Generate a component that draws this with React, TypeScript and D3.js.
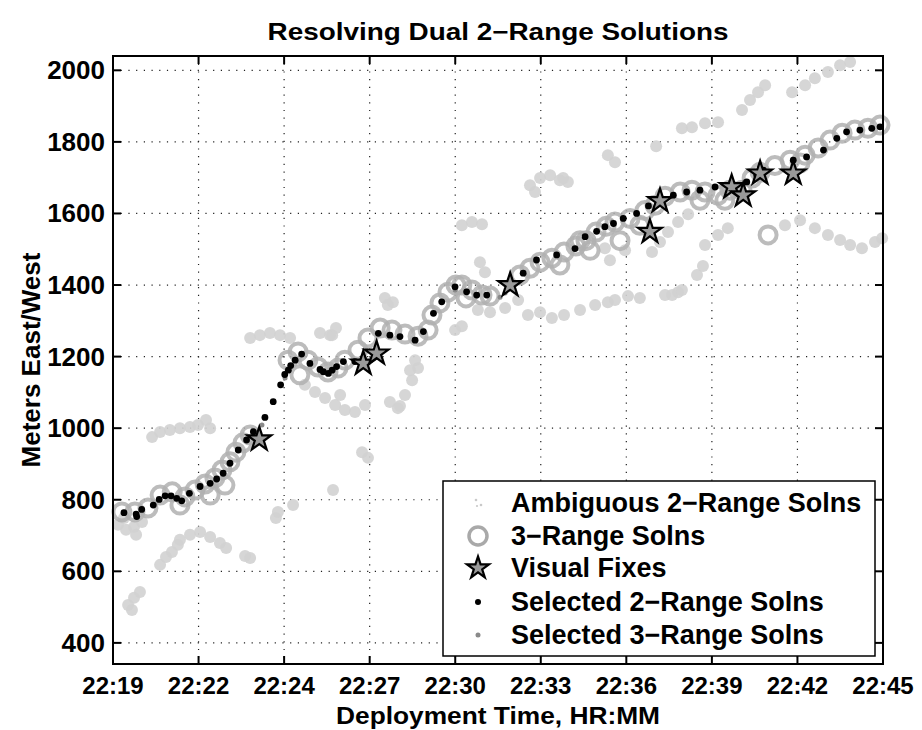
import React from "react";
import * as d3 from "d3";

// ---- Data (time in minutes after 22:00, value in meters East/West) ----
const xTickValues = [19, 21.889, 24.778, 27.667, 30.556, 33.444, 36.333, 39.222, 42.111, 45];
const xTickLabels = ["22:19", "22:22", "22:24", "22:27", "22:30", "22:33", "22:36", "22:39", "22:42", "22:45"];
const yTickValues = [400, 600, 800, 1000, 1200, 1400, 1600, 1800, 2000];

const ambiguous2Range: [number, number][] = [
  [19.17, 730], [19.44, 716], [19.71, 724], [19.98, 738], [19.37, 749], [19.78, 702],
  [19.51, 506], [19.71, 526], [19.91, 542], [19.64, 492],
  [20.32, 975], [20.59, 989], [20.92, 995], [21.26, 1000], [21.6, 1003], [21.87, 1009], [22.14, 1023], [22.28, 1000],
  [20.59, 618], [20.79, 640], [20.99, 654], [21.19, 674],
  [21.26, 688], [21.6, 702], [21.94, 710], [22.28, 696], [22.61, 679], [22.82, 665],
  [23.46, 643], [23.63, 637], [24.5, 749], [24.57, 766],
  [23.63, 1252], [23.96, 1260], [24.3, 1266], [24.64, 1260], [24.98, 1252],
  [25.99, 1266], [26.33, 1260],
  [25.48, 1121], [25.82, 1101], [26.16, 1084], [26.5, 1065], [26.83, 1051], [27.17, 1045], [27.51, 1065], [26.67, 1093],
  [27.41, 933], [27.61, 917],
  [28.35, 1073], [28.62, 1056], [28.86, 1093], [29.1, 1134], [29.3, 1168],
  [26.4, 1260], [26.53, 1280],
  [28.18, 1364], [28.45, 1352], [28.28, 1344],
  [30.78, 1567], [31.12, 1576], [31.46, 1570],
  [31.39, 1464], [31.56, 1436],
  [33.08, 1679], [33.42, 1699], [33.76, 1707], [34.09, 1693], [34.36, 1688], [33.25, 1660],
  [30.55, 1274], [30.78, 1285],
  [31.32, 1330], [31.73, 1324],
  [32.24, 1336], [32.68, 1358], [33.01, 1316],
  [33.42, 1324], [33.82, 1308], [34.23, 1316],
  [34.77, 1330], [35.28, 1344], [35.71, 1352],
  [35.95, 1358], [36.39, 1369], [36.79, 1364],
  [37.64, 1372], [38.08, 1380],
  [29.03, 1162], [29.2, 1190],
  [35.61, 1503],
  [40.24, 1889], [40.51, 1917], [40.78, 1939], [41.02, 1958],
  [41.93, 1939], [42.37, 1958], [42.7, 1978], [43.14, 1995], [43.55, 2014], [43.89, 2023],
  [38.21, 1838], [38.55, 1841], [38.99, 1852], [39.43, 1855],
  [37.34, 1788], [35.71, 1763], [35.95, 1743], [34.2, 1699],
  [37.2, 1492], [37.47, 1520], [37.74, 1548], [38.08, 1576], [38.42, 1598],
  [38.99, 1512], [39.43, 1540], [39.76, 1559],
  [38.72, 1428], [38.92, 1453],
  [41.69, 1567], [42.2, 1581], [42.7, 1559], [43.14, 1540], [43.55, 1526],
  [43.89, 1512], [44.29, 1503], [44.73, 1520], [44.97, 1531],
  [37.88, 1372], [38.21, 1386],
  [35.78, 1469], [36.29, 1497],
  [28.69, 1062], [26.43, 827], [25.08, 785],
];

const threeRange: [number, number][] = [
  [19.3, 766], [19.74, 766], [20.18, 777], [20.59, 813], [21.0, 822], [21.43, 808], [21.77, 827],
  [22.11, 844], [22.44, 861], [22.68, 883], [22.95, 906], [23.15, 933], [23.39, 959], [23.63, 981],
  [21.26, 785], [22.28, 813], [22.78, 841],
  [24.91, 1190], [25.25, 1213], [25.58, 1190], [25.92, 1171], [26.26, 1157], [26.6, 1168], [26.83, 1190], [25.31, 1149],
  [27.27, 1218], [27.61, 1252], [28.02, 1280], [28.42, 1274], [28.86, 1263], [29.3, 1257], [29.64, 1274],
  [29.77, 1316], [30.04, 1350], [30.31, 1380], [30.58, 1400],
  [30.78, 1400], [31.12, 1386], [31.46, 1372], [31.73, 1369], [30.92, 1364],
  [32.74, 1428], [33.08, 1447], [33.42, 1464], [33.82, 1475], [34.23, 1492], [34.63, 1509], [34.97, 1524],
  [35.31, 1548], [35.65, 1564], [34.09, 1456], [35.11, 1497], [34.77, 1524],
  [36.12, 1524], [36.46, 1586], [36.96, 1608], [37.3, 1623], [37.64, 1648], [36.79, 1567], [35.95, 1576],
  [38.15, 1660], [38.55, 1665], [38.99, 1660], [39.43, 1651], [39.83, 1665], [40.24, 1665], [40.58, 1699],
  [40.85, 1715], [38.82, 1637], [39.66, 1637],
  [41.35, 1734], [41.86, 1749], [42.37, 1763], [42.81, 1783], [43.21, 1805], [43.62, 1824], [44.05, 1833],
  [44.49, 1838], [44.9, 1847], [42.2, 1741],
  [41.12, 1540],
];

const visualFixes: [number, number][] = [
  [23.94, 969], [27.45, 1181], [27.9, 1209], [32.41, 1400], [37.13, 1549],
  [37.47, 1635], [39.89, 1674], [40.28, 1651], [40.85, 1712], [41.97, 1712],
];

const selected2Range: [number, number][] = [
  [19.37, 764], [19.78, 760], [19.8, 753], [19.97, 773], [20.36, 785], [20.56, 801], [20.76, 811],
  [20.96, 811], [21.15, 804], [21.32, 797], [21.58, 818], [21.94, 837], [22.28, 846], [22.5, 858],
  [22.72, 874], [22.95, 902], [23.23, 939], [23.51, 967], [23.74, 990], [24.13, 1030], [24.41, 1074],
  [24.66, 1121], [24.8, 1150], [24.92, 1162], [25.0, 1175], [25.15, 1190], [25.37, 1207], [25.65, 1181],
  [25.99, 1164], [26.1, 1158], [26.27, 1153], [26.4, 1162], [26.55, 1172], [26.78, 1186], [27.17, 1186],
  [27.45, 1195], [27.96, 1265], [28.35, 1260], [28.69, 1256], [29.2, 1246], [29.48, 1270], [29.82, 1321],
  [30.1, 1353], [30.55, 1395], [30.94, 1381], [31.28, 1372], [31.62, 1372], [32.85, 1433], [33.3, 1470],
  [33.98, 1484], [34.6, 1502], [34.94, 1535], [35.33, 1550], [35.61, 1563], [35.9, 1572], [36.23, 1586],
  [36.68, 1600], [37.08, 1621], [37.47, 1637], [37.92, 1651], [38.37, 1660], [38.82, 1665], [39.33, 1674],
  [39.83, 1679], [40.4, 1688], [40.74, 1707], [40.96, 1721], [41.97, 1749], [42.42, 1758], [42.99, 1777],
  [43.44, 1810], [43.77, 1828], [44.22, 1833], [44.62, 1838], [44.9, 1842],
];

const selected3Range: [number, number][] = [
  [24.03, 1009], [24.81, 1140], [30.55, 1386], [32.07, 1366], [32.24, 1378], [35.85, 1576],
];

const legendLabels = [
  "Ambiguous 2\u2212Range Solns",
  "3\u2212Range Solns",
  "Visual Fixes",
  "Selected 2\u2212Range Solns",
  "Selected 3\u2212Range Solns",
];

// ---- Layout ----
const W = 922;
const H = 730;
const L = 113, R = 883, T = 56, B = 664;
const FONT = "'Liberation Sans', Arial, Helvetica, sans-serif";

export default function App() {
  const x = d3.scaleLinear().domain([19, 45]).range([L, R]);
  const y = d3.scaleLinear().domain([341, 2040]).range([B, T]);
  const star = d3.symbol().type(d3.symbolStar).size(175)();
  const starSmall = d3.symbol().type(d3.symbolStar).size(150)();
  const tickLen = 8;

  const lx = 478;
  const rowY = [503, 536, 568, 602, 635];

  return (
    <svg width={W} height={H} style={{ position: "absolute", left: 0, top: 0, background: "#fff" }} fontFamily={FONT}>
      <rect x={0} y={0} width={W} height={H} fill="#fff" />
      {/* grid */}
      <g stroke="#222" strokeWidth={1.2} strokeDasharray="1.2,6.5">
        {xTickValues.slice(1, -1).map((v, i) => (
          <line key={"gx" + i} x1={x(v)} x2={x(v)} y1={T} y2={B} />
        ))}
        {yTickValues.map((v, i) => (
          <line key={"gy" + i} x1={L} x2={R} y1={y(v)} y2={y(v)} />
        ))}
      </g>
      {/* ambiguous */}
      <g fill="#d2d2d2">
        {ambiguous2Range.map((d, i) => (
          <circle key={"a" + i} cx={x(d[0])} cy={y(d[1])} r={6} opacity={0.9} />
        ))}
      </g>
      {/* 3-range circles */}
      <g fill="none" stroke="#b0b0b0" strokeWidth={4}>
        {threeRange.map((d, i) => (
          <circle key={"c" + i} cx={x(d[0])} cy={y(d[1])} r={8.5} opacity={0.85} />
        ))}
      </g>
      {/* selected 3-range */}
      <g fill="#8a8a8a">
        {selected3Range.map((d, i) => (
          <circle key={"s3" + i} cx={x(d[0])} cy={y(d[1])} r={2.5} />
        ))}
      </g>
      {/* selected 2-range */}
      <g fill="#000">
        {selected2Range.map((d, i) => (
          <circle key={"s2" + i} cx={x(d[0])} cy={y(d[1])} r={3.4} />
        ))}
      </g>
      {/* visual fixes */}
      <g fill="#9a9a9a" stroke="#000" strokeWidth={2.2}>
        {visualFixes.map((d, i) => (
          <path key={"v" + i} d={star || ""} transform={`translate(${x(d[0])},${y(d[1])})`} />
        ))}
      </g>
      {/* axes box */}
      <rect x={L} y={T} width={R - L} height={B - T} fill="none" stroke="#000" strokeWidth={2} />
      {/* ticks */}
      <g stroke="#000" strokeWidth={2}>
        {xTickValues.map((v, i) => (
          <g key={"tx" + i}>
            <line x1={x(v)} x2={x(v)} y1={B} y2={B - tickLen} />
            <line x1={x(v)} x2={x(v)} y1={T} y2={T + tickLen} />
          </g>
        ))}
        {yTickValues.map((v, i) => (
          <g key={"ty" + i}>
            <line x1={L} x2={L + tickLen} y1={y(v)} y2={y(v)} />
            <line x1={R} x2={R - tickLen} y1={y(v)} y2={y(v)} />
          </g>
        ))}
      </g>
      {/* tick labels */}
      <g fontSize={24} fontWeight="bold" fill="#000">
        {xTickValues.map((v, i) => (
          <text key={"lx" + i} x={x(v)} y={694} textAnchor="middle">{xTickLabels[i]}</text>
        ))}
      </g>
      <g fontSize={26} fontWeight="bold" fill="#000">
        {yTickValues.map((v, i) => (
          <text key={"ly" + i} x={105} y={y(v) + 9} textAnchor="end">{v}</text>
        ))}
      </g>
      {/* labels */}
      <text x={498} y={40} textAnchor="middle" fontSize={24} fontWeight="bold" textLength={461} lengthAdjust="spacingAndGlyphs">
        Resolving Dual 2{"\u2212"}Range Solutions
      </text>
      <text x={498} y={724} textAnchor="middle" fontSize={24} fontWeight="bold" textLength={324} lengthAdjust="spacingAndGlyphs">
        Deployment Time, HR:MM
      </text>
      <text transform={`translate(40,360) rotate(-90)`} textAnchor="middle" fontSize={26} fontWeight="bold">
        Meters East/West
      </text>
      {/* legend */}
      <g>
        <rect x={443} y={481} width={432} height={175} fill="#fff" stroke="#000" strokeWidth={1.5} />
        <g fill="#c9c9c9">
          <circle cx={lx - 2} cy={rowY[0] - 3} r={1.3} />
          <circle cx={lx + 3} cy={rowY[0] + 2} r={1.3} />
          <circle cx={lx - 1} cy={rowY[0] + 3} r={1.1} />
        </g>
        <circle cx={lx} cy={rowY[1]} r={9} fill="none" stroke="#a9a9a9" strokeWidth={3.5} />
        <path d={starSmall || ""} transform={`translate(${lx},${rowY[2]})`} fill="#9a9a9a" stroke="#000" strokeWidth={2.2} />
        <circle cx={lx} cy={rowY[3]} r={3} fill="#000" />
        <circle cx={lx} cy={rowY[4]} r={2.5} fill="#8a8a8a" />
        <g fontSize={27} fontWeight="bold">
          {legendLabels.map((t, i) => (
            <text key={"lg" + i} x={511} y={rowY[i] + 9}>{t}</text>
          ))}
        </g>
      </g>
    </svg>
  );
}
